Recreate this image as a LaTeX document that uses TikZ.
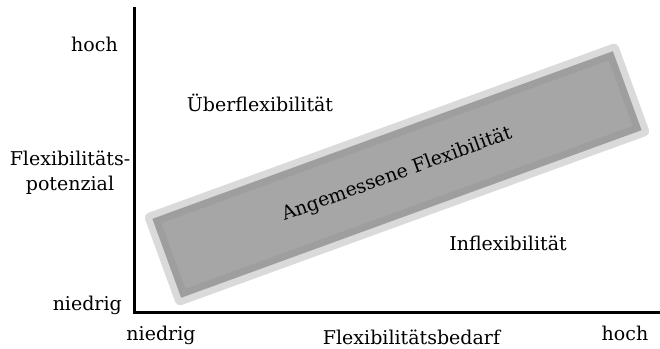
\documentclass[tikz,border=0pt]{standalone}
\usepackage{fontspec}
\setmainfont{DejaVu Serif}
\begin{document}
\begin{tikzpicture}[x=1pt,y=-1pt,
  lbl/.style={inner sep=0pt, font=\fontsize{19}{25}\selectfont},
  axisline/.style={line width=3pt, line cap=rect},
  glow/.style={rotate=20, minimum width=504pt, minimum height=98pt,
    inner sep=0pt, fill=bandglow, rounded corners=5pt},
  band/.style={rotate=20, minimum width=483pt, minimum height=77pt,
    inner sep=0pt, fill=bandfill, draw=bandedge, line width=7pt,
    font=\fontsize{19}{25}\selectfont}]
  \definecolor{bandfill}{HTML}{A6A6A6}
  \definecolor{bandedge}{HTML}{9E9E9E}
  \definecolor{bandglow}{HTML}{DADADA}
  \useasboundingbox (0,0) rectangle (660,348);

  % axes
  \coordinate (ytop) at (134,8);
  \coordinate (origin) at (134,312.5);
  \coordinate (xend) at (660,312.5);
  \draw[axisline] (ytop) -- (origin) -- (xend);

  % band of appropriate flexibility: light halo, then the band itself
  \node[glow] (fitglow) at (397,174.5) {};
  \node[band] (fit) at (fitglow.center) {Angemessene Flexibilität};

  % region labels
  \node[lbl] (over) at (260,103) {Überflexibilität};
  \node[lbl] (under) at (508,243) {Inflexibilität};

  % y axis labels
  \node[lbl, anchor=base east] (yhigh) at (118,51.5) {hoch};
  \node[lbl, align=center] (ytitle) at (70,172.5) {Flexibilitäts-\\potenzial};
  \node[lbl, anchor=base east] (ylow) at (122,310) {niedrig};

  % x axis labels
  \node[lbl, anchor=base] (xlow) at (161,340) {niedrig};
  \node[lbl, anchor=base] (xtitle) at (411.5,344) {Flexibilitätsbedarf};
  \node[lbl, anchor=base] (xhigh) at (625,340) {hoch};
\end{tikzpicture}
\end{document}
